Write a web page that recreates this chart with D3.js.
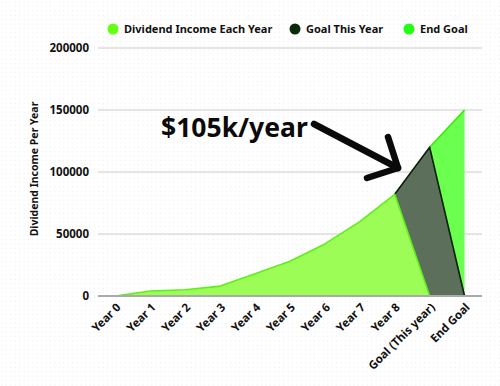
<!DOCTYPE html>
<html>
<head>
<meta charset="utf-8">
<script src="https://cdn.jsdelivr.net/npm/d3@7"></script>
<style>
  html, body { margin: 0; padding: 0; background: #fff; }
  svg { display: block; }
  text { font-family: "Noto Sans", "Open Sans", sans-serif; font-weight: 700; fill: #111; }
</style>
</head>
<body>
<svg id="chart" width="500" height="386"></svg>
<script>
// Categories along the x axis
const categories = ["Year 0", "Year 1", "Year 2", "Year 3", "Year 4", "Year 5", "Year 6", "Year 7", "Year 8", "Goal (This year)", "End Goal"];
// Series values (null = no point for that category)
const dividendIncome = [0, 4000, 5000, 8000, 18000, 28000, 42000, 60000, 82000, 0, null];
const goalThisYear   = [null, null, null, null, null, null, null, null, 82000, 120000, 0];
const endGoal        = [null, null, null, null, null, null, null, null, null, 120000, 150000];
const yTicks = [0, 50000, 100000, 150000, 200000];
const seriesNames = ["Dividend Income Each Year", "Goal This Year", "End Goal"];
const annotationText = "$105k/year";

const svg = d3.select("#chart");
const W = 500, H = 386;

// faint dotted backdrop
const defs = svg.append("defs");
const pat = defs.append("pattern").attr("id", "dots").attr("width", 4.4).attr("height", 4.4)
  .attr("patternUnits", "userSpaceOnUse");
pat.append("rect").attr("x", 1.5).attr("y", 1.5).attr("width", 1.2).attr("height", 1.2).attr("fill", "#eeeeee");
svg.append("rect").attr("width", W).attr("height", H).attr("fill", "#fff");
svg.append("rect").attr("width", W).attr("height", H).attr("fill", "url(#dots)");

const x = d3.scaleBand().domain(categories).range([98, 482]);
const xc = c => x(c) + x.bandwidth() / 2;
const y = d3.scaleLinear().domain([0, 200000]).range([296, 48]);

// gridlines + y tick labels
const yAxis = d3.axisLeft(y).tickValues(yTicks).tickSize(0).tickPadding(9).tickFormat(d3.format("d"));
const gy = svg.append("g").attr("transform", "translate(98,0)").call(yAxis);
gy.select(".domain").remove();
gy.selectAll("text").style("font-size", "11.5px").attr("fill", "#111");
svg.append("g").selectAll("line").data(yTicks.filter(t => t > 0)).join("line")
  .attr("x1", 98).attr("x2", 482).attr("y1", d => y(d)).attr("y2", d => y(d))
  .attr("stroke", "#dcdcdc").attr("stroke-width", 1.5);

// areas
const area = d3.area().defined(d => d.v !== null)
  .x(d => xc(d.c)).y0(y(0)).y1(d => y(d.v));
const line = d3.line().defined(d => d.v !== null)
  .x(d => xc(d.c)).y(d => y(d.v));
const pts = arr => categories.map((c, i) => ({ c, v: arr[i] }));

const layers = [
  { data: endGoal, fill: "#6bff4f", stroke: "#33ee00" },
  { data: goalThisYear, fill: "#5b6f5a", stroke: "#0b1f0b" },
  { data: dividendIncome, fill: "#9dfd57", stroke: "#5fee1c" }
];
layers.forEach(l => {
  svg.append("path").datum(pts(l.data)).attr("d", area).attr("fill", l.fill);
  svg.append("path").datum(pts(l.data)).attr("d", line)
    .attr("fill", "none").attr("stroke", l.stroke).attr("stroke-width", 1.6).attr("stroke-linejoin", "round");
});

// baseline
svg.append("line").attr("x1", 98).attr("x2", 482).attr("y1", y(0)).attr("y2", y(0))
  .attr("stroke", "#aaaaaa").attr("stroke-width", 2);

// x labels
svg.append("g").selectAll("text").data(categories).join("text")
  .attr("transform", d => `translate(${xc(d) + 6},${y(0) + 12}) rotate(-45)`)
  .attr("text-anchor", "end")
  .style("font-size", "11.5px")
  .text(d => d);

// y axis title
svg.append("text")
  .attr("transform", `translate(38,${(y(0) + y(200000)) / 2 - 3}) rotate(-90)`)
  .attr("text-anchor", "middle").style("font-size", "10.5px")
  .text("Dividend Income Per Year");

// legend
const legendColors = ["#66ff11", "#0a2a0a", "#22ff11"];
const legendX = [113, 295, 409];
const lg = svg.append("g");
seriesNames.forEach((n, i) => {
  lg.append("circle").attr("cx", legendX[i]).attr("cy", 29).attr("r", 5.5).attr("fill", legendColors[i]);
  lg.append("text").attr("x", legendX[i] + 11).attr("y", 33).style("font-size", "11px").text(n);
});

// annotation
svg.append("text").attr("x", 161).attr("y", 137).style("font-size", "26.5px").style("fill", "#0a0a0a").text(annotationText);
const arrow = svg.append("g").attr("stroke", "#0a0a0a").attr("stroke-width", 6.5)
  .attr("stroke-linecap", "round").attr("stroke-linejoin", "round").attr("fill", "none");
arrow.append("path").attr("d", "M314,124 L398,168");
arrow.append("path").attr("d", "M388,137 L398,168 L367,178");
</script>
</body>
</html>
